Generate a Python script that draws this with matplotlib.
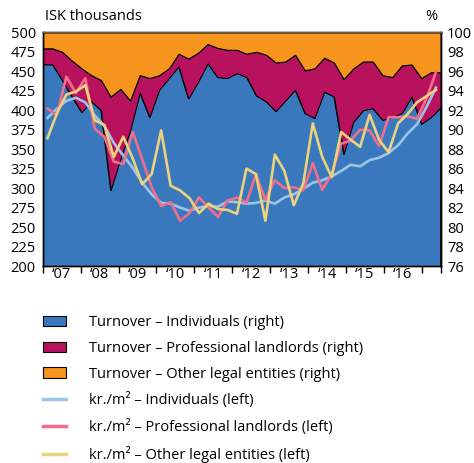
import numpy as np
import matplotlib
matplotlib.use('Agg')
import matplotlib.pyplot as plt
from matplotlib.patches import Patch
from matplotlib.lines import Line2D

plt.rcParams['font.family'] = ['Open Sans', 'DejaVu Sans']

# Quarterly data 2007Q1 - 2017Q2
years = ['‘07', '‘08', '‘09', '‘10', '‘11', '‘12', '‘13', '‘14', '‘15', '‘16']

# Turnover shares, % (right axis)
share_individuals = [96.7, 96.7, 95.1, 93.4, 91.8, 92.9, 92.0, 83.8, 87.0, 89.9,
                     93.8, 91.3, 94.1, 95.3, 96.5, 93.2, 94.9, 96.8, 95.4, 95.3,
                     95.8, 95.4, 93.5, 92.9, 91.9, 93.0, 94.1, 91.7, 91.2, 93.9,
                     93.4, 87.5, 90.8, 92.0, 92.2, 91.0, 91.3, 91.7, 93.4, 90.6,
                     91.3, 92.3]
share_professional = [1.65, 1.65, 2.9, 3.7, 4.5, 2.7, 3.1, 9.6, 7.2, 3.1,
                      1.8, 4.0, 1.5, 1.0, 1.3, 4.1, 3.0, 2.0, 3.0, 2.9,
                      2.4, 2.4, 4.5, 4.8, 5.0, 4.0, 3.6, 4.4, 5.1, 3.5,
                      3.5, 7.7, 5.5, 5.0, 4.8, 4.6, 4.1, 4.9, 3.3, 4.7,
                      4.6, 3.6]
share_other = [1.65, 1.65, 2.0, 2.9, 3.7, 4.4, 4.9, 6.6, 5.8, 7.0,
               4.4, 4.7, 4.4, 3.7, 2.2, 2.7, 2.1, 1.2, 1.6, 1.8,
               1.8, 2.2, 2.0, 2.3, 3.1, 3.0, 2.3, 3.9, 3.7, 2.6,
               3.1, 4.8, 3.7, 3.0, 3.0, 4.4, 4.6, 3.4, 3.3, 4.7,
               4.1, 4.1]

# Price per m2, ISK thousands (left axis)
kr_individuals = [390, 402, 412, 416, 410, 393, 380, 358, 342, 326,
                  307, 292, 281, 280, 275, 271, 275, 277, 276, 283,
                  282, 280, 281, 284, 280, 288, 292, 299, 307, 310,
                  315, 322, 330, 328, 336, 339, 345, 355, 370, 382,
                  404, 429]
kr_professional = [402, 394, 443, 422, 441, 376, 366, 334, 331, 372,
                   337, 301, 277, 282, 258, 268, 288, 275, 263, 284,
                   288, 281, 318, 285, 310, 300, 301, 297, 332, 298,
                   318, 357, 361, 375, 374, 354, 391, 391, 392, 389,
                   415, 449]
kr_other = [364, 396, 420, 424, 432, 387, 381, 340, 366, 338,
            305, 318, 374, 303, 297, 287, 268, 280, 273, 272,
            267, 325, 318, 258, 343, 322, 278, 306, 383, 340,
            314, 372, 362, 353, 394, 362, 346, 383, 395, 410,
            418, 426]

C_BLUE = '#3a78bd'
C_MAG = '#b8125e'
C_ORANGE = '#f7941d'
C_LBLUE = '#9dc3e6'
C_PINK = '#f06e8c'
C_YELLOW = '#ebd27c'

n = len(share_individuals)
x_area = np.linspace(0, n, n)      # area vertices span the full width
x_line = np.arange(n) + 0.5        # lines sit in the middle of each quarter

fig = plt.figure(figsize=(4.74, 4.63), dpi=100)
ax = fig.add_axes([42.7 / 474, 1 - 266 / 463, 398 / 474, 233.7 / 463])
ax_r = ax.twinx()
ax.set_zorder(ax_r.get_zorder() + 1)
ax.patch.set_visible(False)

# Stacked areas (right axis)
ax_r.stackplot(x_area, share_individuals, share_professional, share_other,
               colors=[C_BLUE, C_MAG, C_ORANGE], edgecolor='black', linewidth=0.8)
ax_r.set_ylim(76, 100)
ax_r.set_yticks(np.arange(76, 101, 2))

# Lines (left axis)
ax.plot(x_line, kr_individuals, color=C_LBLUE, lw=1.9)
ax.plot(x_line, kr_professional, color=C_PINK, lw=1.9)
ax.plot(x_line, kr_other, color=C_YELLOW, lw=1.9)
ax.set_ylim(200, 500)
ax.set_yticks(np.arange(200, 501, 25))
ax.set_xlim(0, n)

# Year ticks at year boundaries, labels centred between them
ax.set_xticks(list(range(0, n, 4)) + [n])
ax.set_xticklabels([])
ax.set_xticks(np.arange(2, 40, 4), minor=True)
ax.set_xticklabels(years, minor=True)
ax.tick_params(axis='x', which='major', direction='out', length=5, width=1)
ax.tick_params(axis='x', which='minor', length=0, pad=1, labelsize=10.5)
ax.tick_params(axis='y', length=0, pad=5, labelsize=10.5)
ax_r.tick_params(axis='y', length=0, pad=4.5, labelsize=10.5)

for a in (ax, ax_r):
    for s in a.spines.values():
        s.set_color('black')
        s.set_linewidth(1)
ax.spines['top'].set_color('#6b5a4a')

fig.text(45 / 474, 1 - 17 / 463, 'ISK thousands', fontsize=10.5, va='center', ha='left')
fig.text(431 / 474, 1 - 17 / 463, '%', fontsize=10.5, va='center', ha='center')

handles = [
    Patch(facecolor=C_BLUE, edgecolor='black', linewidth=0.8),
    Patch(facecolor=C_MAG, edgecolor='black', linewidth=0.8),
    Patch(facecolor=C_ORANGE, edgecolor='black', linewidth=0.8),
    Line2D([], [], color=C_LBLUE, lw=2.5),
    Line2D([], [], color=C_PINK, lw=2.5),
    Line2D([], [], color=C_YELLOW, lw=2.5),
]
labels = [
    'Turnover – Individuals (right)',
    'Turnover – Professional landlords (right)',
    'Turnover – Other legal entities (right)',
    'kr./m² – Individuals (left)',
    'kr./m² – Professional landlords (left)',
    'kr./m² – Other legal entities (left)',
]
fig.legend(handles, labels, loc='upper left', bbox_to_anchor=(43 / 474, 1 - 315 / 463),
           frameon=False, fontsize=10.5, borderpad=0, borderaxespad=0,
           handlelength=1.58, handleheight=0.7, handletextpad=1.58, labelspacing=0.74)

fig.savefig('out.png', dpi=100)
